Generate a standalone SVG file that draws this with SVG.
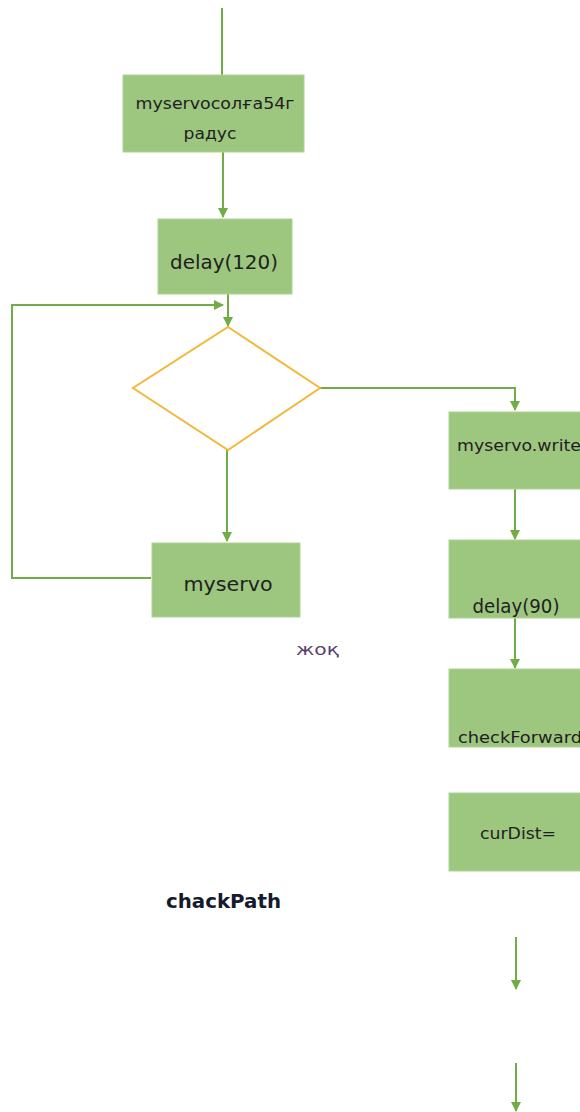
<svg xmlns="http://www.w3.org/2000/svg" width="580" height="1112" viewBox="0 0 580 1112">
  <style>
    .box { fill: #9dc67f; stroke: #aed393; stroke-width: 1; }
    .dia { fill: none; stroke: #f2b93b; stroke-width: 2; }
    .conn { fill: none; stroke: #70ad47; stroke-width: 2; }
    .lbl { font-family: "DejaVu Sans", sans-serif; fill: #1f1f1f; }
    .sm { font-size: 15px; }
    .big { font-size: 20px; }
  </style>
  <defs>
    <marker id="arrow" viewBox="0 0 10 10" refX="9" refY="5" markerUnits="userSpaceOnUse" markerWidth="10" markerHeight="10" orient="auto">
      <path d="M0,0 L10,5 L0,10 z" fill="#70ad47"/>
    </marker>
  </defs>
  <rect width="580" height="1112" fill="#ffffff"/>

  <!-- connectors -->
  <g id="connectors">
    <path class="conn" d="M222,8 V75"/>
    <path class="conn" d="M223,152 V217" marker-end="url(#arrow)"/>
    <path class="conn" d="M228,294 V326" marker-end="url(#arrow)"/>
    <path class="conn" d="M151,578 H12 V305 H223" marker-end="url(#arrow)"/>
    <path class="conn" d="M227,450 V541" marker-end="url(#arrow)"/>
    <path class="conn" d="M320,388 H515 V410" marker-end="url(#arrow)"/>
    <path class="conn" d="M515,489 V539" marker-end="url(#arrow)"/>
    <path class="conn" d="M515,618 V668" marker-end="url(#arrow)"/>
    <path class="conn" d="M516,937 V989" marker-end="url(#arrow)"/>
    <path class="conn" d="M516,1063 V1111" marker-end="url(#arrow)"/>
  </g>

  <!-- nodes -->
  <g id="servo-left">
    <rect class="box" x="123" y="75" width="181" height="77"/>
    <text class="lbl sm" x="215" y="109" text-anchor="middle" textLength="159" lengthAdjust="spacingAndGlyphs">myservoсолға54г</text>
    <text class="lbl sm" x="210" y="139" text-anchor="middle" textLength="53" lengthAdjust="spacingAndGlyphs">радус</text>
  </g>

  <g id="delay120">
    <rect class="box" x="158" y="219" width="134" height="75"/>
    <text class="lbl big" x="224" y="269" text-anchor="middle" textLength="108" lengthAdjust="spacingAndGlyphs">delay(120)</text>
  </g>

  <g id="decision">
    <polygon class="dia" points="228,327 320,388 228,450 133,388"/>
  </g>

  <g id="myservo">
    <rect class="box" x="152" y="543" width="148" height="74"/>
    <text class="lbl big" x="228" y="591" text-anchor="middle" textLength="89" lengthAdjust="spacingAndGlyphs">myservo</text>
  </g>

  <g id="servo-write">
    <rect class="box" x="449" y="412" width="151" height="77"/>
    <text class="lbl sm" x="457" y="451" textLength="124" lengthAdjust="spacingAndGlyphs">myservo.write</text>
  </g>

  <g id="delay90">
    <rect class="box" x="449" y="540" width="151" height="78"/>
    <text class="lbl" font-size="19" x="516" y="613" text-anchor="middle" textLength="87" lengthAdjust="spacingAndGlyphs">delay(90)</text>
  </g>

  <g id="check-forward">
    <rect class="box" x="449" y="669" width="151" height="78"/>
    <text class="lbl sm" x="458" y="743" textLength="124" lengthAdjust="spacingAndGlyphs">checkForward</text>
  </g>

  <g id="cur-dist">
    <rect class="box" x="449" y="793" width="151" height="78"/>
    <text class="lbl sm" x="518" y="839" text-anchor="middle" textLength="76" lengthAdjust="spacingAndGlyphs">curDist=</text>
  </g>

  <g id="label-no">
    <text class="lbl" font-size="15" style="fill:#5b3f6e" x="296" y="655" textLength="43" lengthAdjust="spacingAndGlyphs">жоқ</text>
  </g>

  <g id="label-path">
    <text class="lbl" font-size="20" font-weight="bold" style="fill:#151a2e" x="166" y="908" textLength="115" lengthAdjust="spacingAndGlyphs">chackPath</text>
  </g>
</svg>
